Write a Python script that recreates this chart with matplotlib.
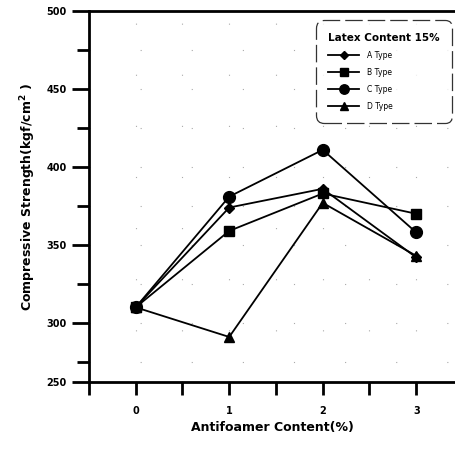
import matplotlib
matplotlib.use("Agg")
import matplotlib.pyplot as plt

x = [0, 1, 2, 3]
a_type = [310, 374, 386, 342]
b_type = [310, 359, 383, 370]
c_type = [310, 381, 411, 358]
d_type = [310, 291, 377, 343]
series_names = ["A Type", "B Type", "C Type", "D Type"]
xticklabels = ["0", "1", "2", "3"]
ytick_vals = [262, 300, 350, 400, 450, 500]
yticklabels = ["250", "300", "350", "400", "450", "500"]

plt.rcParams['font.family'] = ['DejaVu Sans']
fig = plt.figure(figsize=(4.56, 4.61), dpi=100)
ax = fig.add_axes([0.195, 0.171, 0.805, 0.805])

markers = ['D', 's', 'o', '^']
msizes = [5, 7.5, 8.5, 7.5]
for vals, name, m, ms in zip([a_type, b_type, c_type, d_type], series_names, markers, msizes):
    ax.plot(x, vals, color='black', lw=1.3, marker=m, ms=ms, label=name, clip_on=False, zorder=3)

ax.set_xlim(-0.5, 3.425)
ax.set_ylim(262, 500)
ax.set_xticks(x)
ax.set_xticklabels(xticklabels, fontsize=7, fontweight='bold')
ax.set_xticks([-0.5, 0.5, 1.5, 2.5], minor=True)
ax.set_yticks(ytick_vals)
ax.set_yticklabels(yticklabels, fontsize=7, fontweight='bold')
ax.set_yticks([275, 325, 375, 425, 475], minor=True)

for s in ['left', 'bottom', 'top']:
    ax.spines[s].set_linewidth(2)
ax.spines['right'].set_visible(False)
ax.tick_params(axis='both', which='both', direction='out', width=2, length=9, pad=8)
ax.tick_params(axis='y', which='major', length=12, pad=4)

ax.grid(True, which='both', color='#aaaaaa', lw=0.8, linestyle=(0, (1, 45)))

ax.set_xlabel("Antifoamer Content(%)", fontsize=9, fontweight='bold', labelpad=4)
ax.set_ylabel(r"Compressive Strength(kgf/cm$^{\mathbf{2}}$ )", fontsize=9, fontweight='bold', labelpad=6)

leg = ax.legend(loc='upper right', bbox_to_anchor=(1.0, 0.985), title="Latex Content 15%",
                title_fontproperties={'weight': 'bold', 'size': 7.5}, fontsize=5.5,
                frameon=True, fancybox=True, edgecolor='black', handlelength=4.0,
                markerscale=0.8, labelspacing=1.05, borderpad=1.6, handletextpad=1.0)
leg._legend_box.align = "left"
frame = leg.get_frame()
frame.set_linewidth(0.9)
frame.set_linestyle((0, (14, 4)))
frame.set_boxstyle('round', pad=0, rounding_size=1.0)

fig.savefig("out.png", dpi=100)
